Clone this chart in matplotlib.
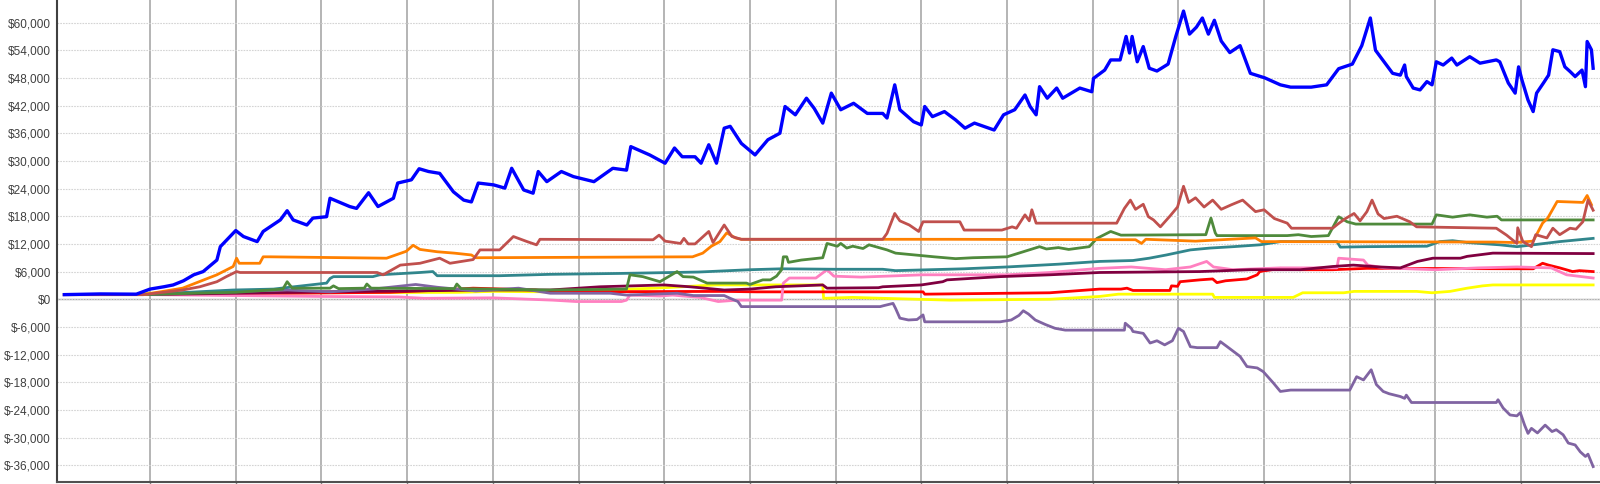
import numpy as np
import matplotlib
matplotlib.use("Agg")
import matplotlib.pyplot as plt
from matplotlib.ticker import FuncFormatter

# equity curves, x in years, values in $ thousands
blue_t = [0.0, 0.42, 0.84, 1.00, 1.16, 1.27, 1.39, 1.51, 1.62, 1.78, 1.82, 2.00, 2.09, 2.25, 2.32,
          2.52, 2.60, 2.67, 2.83, 2.90, 3.06, 3.10, 3.33, 3.41, 3.55, 3.66, 3.84, 3.89, 4.05, 4.14,
          4.25, 4.38, 4.54, 4.66, 4.75, 4.83, 5.01, 5.14, 5.22, 5.36, 5.47, 5.53, 5.63, 5.80, 5.94,
          6.18, 6.40, 6.56, 6.61, 6.83, 7.01, 7.12, 7.21, 7.36, 7.43, 7.52, 7.61, 7.70, 7.77, 7.90,
          8.06, 8.21, 8.35, 8.41, 8.53, 8.66, 8.75, 8.85, 8.95, 9.06, 9.21, 9.37, 9.55, 9.60, 9.69,
          9.75, 9.91, 10.00, 10.04, 10.13, 10.27, 10.40, 10.51, 10.62, 10.85, 10.96, 11.09, 11.21,
          11.27, 11.34, 11.38, 11.47, 11.58, 11.65, 11.85, 11.99, 12.01, 12.14, 12.21, 12.32, 12.39,
          12.43, 12.46, 12.52, 12.59, 12.66, 12.75, 12.88, 12.97, 13.06, 13.13, 13.21, 13.28, 13.35,
          13.42, 13.50, 13.60, 13.72, 13.84, 14.01, 14.19, 14.31, 14.55, 14.73, 14.87, 15.03, 15.14,
          15.24, 15.30, 15.38, 15.50, 15.59, 15.64, 15.66, 15.74, 15.82, 15.90, 15.96, 16.01, 16.09,
          16.19, 16.25, 16.40, 16.52, 16.71, 16.75, 16.85, 16.93, 16.97, 17.01, 17.08, 17.14, 17.18,
          17.26, 17.32, 17.37, 17.45, 17.51, 17.57, 17.63, 17.71, 17.75, 17.77, 17.82, 17.84]
blue_v = [1.0, 1.15, 1.1, 2.2, 2.7, 3.1, 4.0, 5.3, 6.0, 8.5, 11.4, 14.9, 13.6, 12.5, 14.7,
          17.2, 19.2, 17.2, 16.1, 17.6, 17.9, 21.9, 20.1, 19.7, 23.1, 20.1, 21.9, 25.2, 25.9, 28.3,
          27.7, 27.3, 23.3, 21.5, 21.1, 25.2, 24.8, 24.1, 28.4, 23.7, 23.0, 27.7, 25.5, 27.7, 26.6,
          25.5, 28.4, 28.0, 33.1, 31.3, 29.5, 32.8, 30.9, 30.9, 29.5, 33.5, 29.5, 37.1, 37.5, 33.8,
          31.3, 34.6, 36.0, 41.8, 40.0, 43.6, 41.4, 38.2, 44.7, 41.1, 42.5, 40.3, 40.3, 39.3, 46.5,
          41.1, 38.5, 37.8, 41.8, 39.6, 40.7, 38.9, 37.1, 38.2, 36.7, 40.0, 41.1, 44.3,
          41.8, 40.0, 46.1, 43.6, 45.8, 43.6, 45.8, 45.0, 47.9, 49.7, 51.9, 51.9, 57.0,
          53.4, 57.0, 51.5, 54.8, 50.1, 49.5, 51.0, 57.0, 62.5, 57.5, 59.0, 61.0, 57.5,
          60.5, 56.0, 53.5, 55.0, 49.0, 48.0, 46.5, 46.0, 46.0, 46.5, 50.0, 51.0, 55.0,
          61.0, 54.0, 52.0, 49.0, 48.6, 50.8, 48.3, 45.8, 45.4, 47.2, 46.5, 51.5, 50.8,
          52.3, 50.8, 52.6, 51.2, 51.9, 51.5, 46.9, 44.7, 50.4, 47.5, 43.2, 40.7, 44.7,
          46.9, 48.6, 54.1, 53.7, 50.4, 49.4, 48.3, 49.7, 46.1, 55.9, 54.1, 50.1]

orange_t = [0.0, 0.92, 1.38, 1.78, 1.97, 2.01, 2.04, 2.28, 2.32, 2.40, 3.76, 3.99, 4.07, 4.15, 4.35,
            4.55, 4.75, 4.80, 7.33, 7.45, 7.55, 7.65, 7.73, 7.83, 7.90, 10.33, 12.50, 12.57, 12.62,
            13.20, 13.90, 13.97, 16.70, 16.93, 17.14, 17.25, 17.31, 17.42, 17.72, 17.77, 17.82]
orange_v = [1.0, 1.0, 2.4, 5.3, 7.1, 8.9, 7.8, 7.8, 9.2, 9.2, 8.9, 10.4, 11.7, 10.8, 10.3,
            10.0, 9.6, 9.0, 9.2, 10.0, 11.5, 12.5, 14.4, 13.3, 13.0, 13.0, 12.9, 12.1, 13.0,
            12.6, 13.3, 12.5, 12.4, 12.3, 12.6, 16.5, 17.6, 21.2, 21.0, 22.5, 20.5]

brown_t = [0.0, 0.92, 1.38, 1.58, 1.78, 1.89, 2.01, 2.05, 3.65, 3.72, 3.92, 4.15, 4.38, 4.50, 4.77,
           4.85, 5.08, 5.24, 5.40, 5.51, 5.55, 6.87, 6.94, 7.01, 7.19, 7.23, 7.28, 7.36, 7.52, 7.57,
           7.70, 7.79, 7.90, 9.55, 9.60, 9.69, 9.75, 9.86, 9.97, 10.02, 10.45, 10.50, 10.94, 11.06,
           11.11, 11.21, 11.26, 11.29, 11.34, 12.28, 12.37, 12.44, 12.50, 12.59, 12.65, 12.71, 12.79,
           12.90, 12.99, 13.06, 13.12, 13.20, 13.30, 13.40, 13.50, 13.62, 13.75, 13.90, 14.00, 14.12,
           14.27, 14.32, 14.80, 14.86, 14.95, 15.05, 15.12, 15.20, 15.26, 15.33, 15.40, 15.55, 15.70,
           15.78, 16.71, 16.83, 16.95, 16.96, 17.02, 17.12, 17.17, 17.30, 17.37, 17.45, 17.57, 17.64,
           17.72, 17.78, 17.84]
brown_v = [1.0, 1.0, 2.0, 2.7, 3.8, 4.9, 6.0, 5.8, 5.8, 5.3, 7.4, 7.8, 8.9, 7.8, 8.6,
           10.7, 10.7, 13.6, 12.5, 11.8, 13.0, 12.9, 13.9, 12.6, 12.1, 13.2, 12.0, 12.0, 14.7, 12.3,
           16.1, 13.6, 13.0, 13.0, 14.3, 18.6, 17.0, 16.1, 14.7, 16.8, 16.8, 15.0, 15.0, 15.7,
           15.4, 18.3, 17.0, 19.4, 16.5, 16.5, 19.7, 21.5, 19.5, 20.6, 17.9, 17.2, 15.7,
           18.0, 20.0, 24.5, 21.0, 22.0, 20.0, 21.5, 19.5, 20.5, 21.5, 19.0, 19.4, 17.5,
           16.5, 15.4, 15.4, 16.3, 17.5, 18.6, 17.0, 19.0, 21.5, 18.5, 17.5, 18.0, 16.8,
           15.7, 15.4, 13.9, 12.1, 15.5, 12.5, 11.4, 14.0, 13.3, 15.4, 14.0, 15.4, 15.2,
           16.8, 21.5, 19.3]

green_t = [0.0, 0.92, 1.5, 2.0, 2.4, 2.55, 2.60, 2.66, 3.10, 3.14, 3.20, 3.50, 3.53, 3.58, 4.55,
           4.58, 4.63, 5.67, 6.56, 6.60, 6.75, 6.95, 7.15, 7.22, 7.34, 7.50, 7.96, 8.00, 8.15, 8.24,
           8.31, 8.37, 8.39, 8.43, 8.45, 8.60, 8.85, 8.90, 9.02, 9.06, 9.13, 9.20, 9.32, 9.39, 9.60,
           9.70, 10.15, 10.40, 10.60, 11.00, 11.38, 11.46, 11.60, 11.72, 11.96, 12.05, 12.21, 12.33,
           13.32, 13.38, 13.43, 13.45, 14.27, 14.40, 14.55, 14.75, 14.87, 14.97, 15.07, 15.96, 16.01,
           16.20, 16.40, 16.60, 16.72, 16.77, 17.84]
green_v = [1.0, 1.0, 1.3, 1.5, 2.0, 2.2, 3.8, 2.4, 2.4, 2.9, 2.3, 2.4, 3.3, 2.4, 2.3,
           3.3, 2.3, 2.0, 2.2, 5.3, 4.9, 3.8, 6.0, 4.9, 4.8, 3.5, 3.5, 3.2, 4.2, 4.2,
           5.0, 6.4, 9.2, 9.2, 8.0, 8.5, 9.0, 12.1, 11.5, 12.1, 11.1, 11.5, 11.0, 11.8, 10.7,
           10.0, 9.2, 8.8, 9.0, 9.2, 11.4, 10.9, 11.2, 10.8, 11.4, 13.2, 14.7, 13.9,
           14.0, 17.6, 14.4, 13.8, 13.8, 14.0, 13.6, 13.8, 17.9, 16.8, 16.3, 16.3, 18.3,
           17.8, 18.3, 17.8, 18.0, 17.2, 17.2]

teal_t = [0.0, 0.92, 1.97, 2.44, 3.06, 3.10, 3.14, 3.60, 3.68, 4.15, 4.30, 4.35, 5.08, 5.67, 6.50,
          7.40, 8.00, 8.37, 9.00, 9.55, 9.70, 10.50, 11.00, 11.60, 12.08, 12.47, 12.66, 12.86, 13.14,
          13.37, 13.64, 13.95, 14.19, 14.85, 14.89, 15.20, 15.90, 16.05, 16.20, 16.37, 16.75, 16.95,
          17.14, 17.45, 17.84]
teal_v = [1.0, 1.0, 2.0, 2.2, 3.5, 4.5, 4.9, 4.9, 5.3, 5.8, 6.0, 5.1, 5.1, 5.4, 5.6,
          5.9, 6.4, 6.6, 6.5, 6.5, 6.2, 6.6, 7.0, 7.6, 8.2, 8.4, 8.9, 9.6, 10.7,
          11.1, 11.4, 11.8, 12.5, 12.5, 11.3, 11.4, 11.5, 12.5, 12.7, 12.3, 11.8, 11.4,
          11.8, 12.5, 13.2]

purple_t = [0.0, 0.92, 1.5, 2.2, 2.6, 3.1, 3.6, 3.90, 4.10, 4.35, 4.8, 5.3, 5.67, 6.37, 6.56,
            7.15, 7.34, 7.70, 7.77, 7.86, 7.90, 9.52, 9.56, 9.67, 9.70, 9.75, 9.85, 9.95, 10.02,
            10.04, 10.92, 11.05, 11.14, 11.19, 11.25, 11.33, 11.45, 11.56, 11.68, 12.37, 12.38,
            12.45, 12.47, 12.59, 12.67, 12.75, 12.84, 12.93, 13.00, 13.06, 13.14, 13.22, 13.45,
            13.49, 13.57, 13.72, 13.80, 13.92, 13.99, 14.11, 14.19, 14.31, 15.00, 15.08, 15.16,
            15.25, 15.31, 15.39, 15.46, 15.59, 15.64, 15.66, 15.72, 16.71, 16.73, 16.79, 16.87,
            16.95, 16.99, 17.04, 17.08, 17.12, 17.19, 17.28, 17.36, 17.41, 17.49, 17.55, 17.63,
            17.69, 17.75, 17.78, 17.84]
purple_v = [1.0, 1.0, 1.4, 1.8, 2.0, 1.6, 2.2, 2.8, 3.2, 2.6, 1.8, 2.4, 1.3, 1.3, 0.9,
            1.3, 0.8, 0.8, 0.2, -0.5, -1.6, -1.6, -1.4, -0.9, -2.0, -4.1, -4.5, -4.4, -3.4,
            -4.9, -4.9, -4.5, -3.5, -2.5, -3.2, -4.5, -5.5, -6.3, -6.7, -6.7, -5.2,
            -6.3, -7.0, -7.4, -9.5, -9.0, -9.9, -9.0, -6.3, -7.0, -10.3, -10.5, -10.5,
            -9.2, -10.3, -12.4, -14.6, -14.9, -15.7, -18.2, -20.0, -19.7, -19.7, -16.8, -17.5,
            -15.3, -18.5, -20.0, -20.5, -21.1, -21.5, -20.8, -22.4, -22.4, -21.8, -23.6, -25.1,
            -25.3, -24.6, -27.3, -29.1, -28.0, -29.0, -27.3, -28.7, -28.3, -29.4, -31.2, -31.6,
            -33.1, -34.1, -33.6, -36.3]

maroon_t = [0.0, 0.92, 2.0, 3.0, 4.0, 5.0, 5.67, 6.25, 7.0, 7.3, 7.7, 8.0, 8.3, 8.85, 8.90,
            9.5, 9.55, 10.0, 10.25, 10.3, 10.65, 10.92, 11.5, 12.08, 13.25, 13.84, 14.42, 14.80,
            15.04, 15.35, 15.59, 15.79, 15.97, 16.29, 16.37, 16.67, 17.84]
maroon_v = [1.0, 1.0, 1.3, 1.6, 1.8, 2.0, 2.0, 2.7, 3.1, 2.7, 2.0, 2.2, 2.7, 3.1, 2.4,
            2.5, 2.7, 3.1, 3.8, 4.2, 4.6, 4.9, 5.3, 5.8, 6.0, 6.4, 6.4, 7.1,
            7.4, 7.0, 6.8, 8.2, 8.9, 8.9, 9.3, 10.0, 9.9]

red_t = [0.0, 0.92, 2.0, 3.8, 4.4, 4.77, 5.5, 5.67, 7.7, 8.08, 10.02, 10.04, 11.5, 12.08, 12.33,
         12.40, 12.47, 12.90, 12.92, 12.99, 13.02, 13.25, 13.40, 13.45, 13.55, 13.80, 13.92, 13.95,
         14.19, 14.42, 14.80, 15.20, 17.14, 17.25, 17.32, 17.45, 17.60, 17.68, 17.84]
red_v = [1.0, 1.0, 1.2, 1.5, 2.0, 2.4, 2.0, 1.6, 1.7, 1.6, 1.6, 1.1, 1.4, 2.2, 2.2,
         2.4, 1.9, 1.9, 2.9, 2.8, 3.8, 4.2, 4.4, 3.6, 4.0, 4.4, 5.3, 6.0,
         6.7, 6.4, 6.4, 6.7, 6.6, 7.8, 7.4, 6.8, 6.0, 6.2, 6.0]

pink_t = [0.0, 0.92, 1.5, 3.0, 3.9, 4.2, 5.0, 5.7, 5.97, 6.5, 6.56, 6.60, 6.95, 7.1, 7.22,
          7.42, 7.63, 7.85, 8.37, 8.39, 8.46, 8.77, 8.90, 8.98, 9.3, 10.02, 11.0, 11.5, 12.08,
          12.45, 12.85, 13.14, 13.33, 13.41, 13.64, 14.19, 14.85, 14.87, 15.16, 15.21, 15.40,
          16.0, 16.5, 16.95, 17.35, 17.53, 17.84]
pink_v = [1.0, 1.0, 0.9, 0.6, 0.5, 0.2, 0.3, -0.2, -0.5, -0.5, -0.2, 0.9, 0.7, 0.9, 0.7,
          0.4, -0.5, -0.2, -0.2, 3.5, 4.6, 4.6, 6.4, 5.0, 4.8, 5.3, 5.3, 5.8, 6.7,
          7.0, 6.4, 7.0, 8.2, 7.0, 6.4, 6.8, 6.8, 8.9, 8.5, 7.4, 6.8,
          6.4, 6.8, 7.0, 6.8, 5.3, 4.6]

yellow_t = [0.0, 0.92, 0.95, 4.6, 5.0, 5.67, 6.9, 7.6, 8.85, 8.86, 9.2, 9.55, 10.34, 11.5, 12.08,
            12.30, 13.40, 13.42, 14.34, 14.45, 14.93, 15.05, 15.78, 15.96, 16.17, 16.37, 16.55,
            16.67, 17.84]
yellow_v = [1.0, 1.0, 1.3, 1.5, 1.7, 1.6, 2.4, 3.1, 3.1, 0.2, 0.4, 0.2, -0.2, 0.0, 0.6,
            1.1, 1.1, 0.4, 0.4, 1.4, 1.4, 1.7, 1.7, 1.4, 1.7, 2.4, 2.9,
            3.1, 3.1]

start_year = 2000
grid_years = list(range(2001, 2018))
y_ticks = list(range(-36000, 60001, 6000))

series = [
    (yellow_t, yellow_v, "#FFFF00", 2.0),
    (red_t, red_v, "#FF0000", 2.0),
    (pink_t, pink_v, "#FF80C0", 2.0),
    (maroon_t, maroon_v, "#800040", 2.0),
    (purple_t, purple_v, "#8064A2", 2.0),
    (teal_t, teal_v, "#31868C", 2.0),
    (green_t, green_v, "#4F8A3C", 2.0),
    (orange_t, orange_v, "#FF8000", 2.0),
    (brown_t, brown_v, "#C0504D", 2.0),
    (blue_t, blue_v, "#0000FF", 2.4),
]

fig = plt.figure(figsize=(16, 4.84), dpi=100)
ax = fig.add_axes([0.0354, 0.0048, 0.9646, 0.9952])

for t, v, c, lw in series:
    ax.plot(np.array(t) + start_year, np.array(v) * 1000, color=c, lw=lw,
            solid_joinstyle="round")

ax.set_xlim(1999.91, 2017.92)
ax.set_ylim(-39570, 64900)

ax.set_xticks(grid_years)
ax.set_xticklabels([])
ax.set_yticks(y_ticks)
ax.yaxis.set_major_formatter(FuncFormatter(lambda v, p: f"${int(v):,}"))

ax.xaxis.grid(True, color="#a0a0a0", lw=1.1, ls="-")
ax.yaxis.grid(True, color="#d4d4d4", lw=0.8, ls=(0, (1.5, 1)))
ax.set_axisbelow(True)
ax.axhline(0, color="#a8a8a8", lw=1.0, zorder=0.5)

ax.tick_params(axis="y", length=0, pad=4, labelsize=8.5, labelcolor="#404040")
ax.tick_params(axis="x", length=3, color="#808080", width=1)
for lab in ax.get_yticklabels():
    lab.set_fontfamily(["Liberation Sans", "DejaVu Sans"])

ax.spines["top"].set_visible(False)
ax.spines["right"].set_visible(False)
ax.spines["left"].set_color("#404040")
ax.spines["left"].set_linewidth(1.5)
ax.spines["bottom"].set_color("#505050")
ax.spines["bottom"].set_linewidth(1.5)

fig.savefig("out.png", dpi=100)
